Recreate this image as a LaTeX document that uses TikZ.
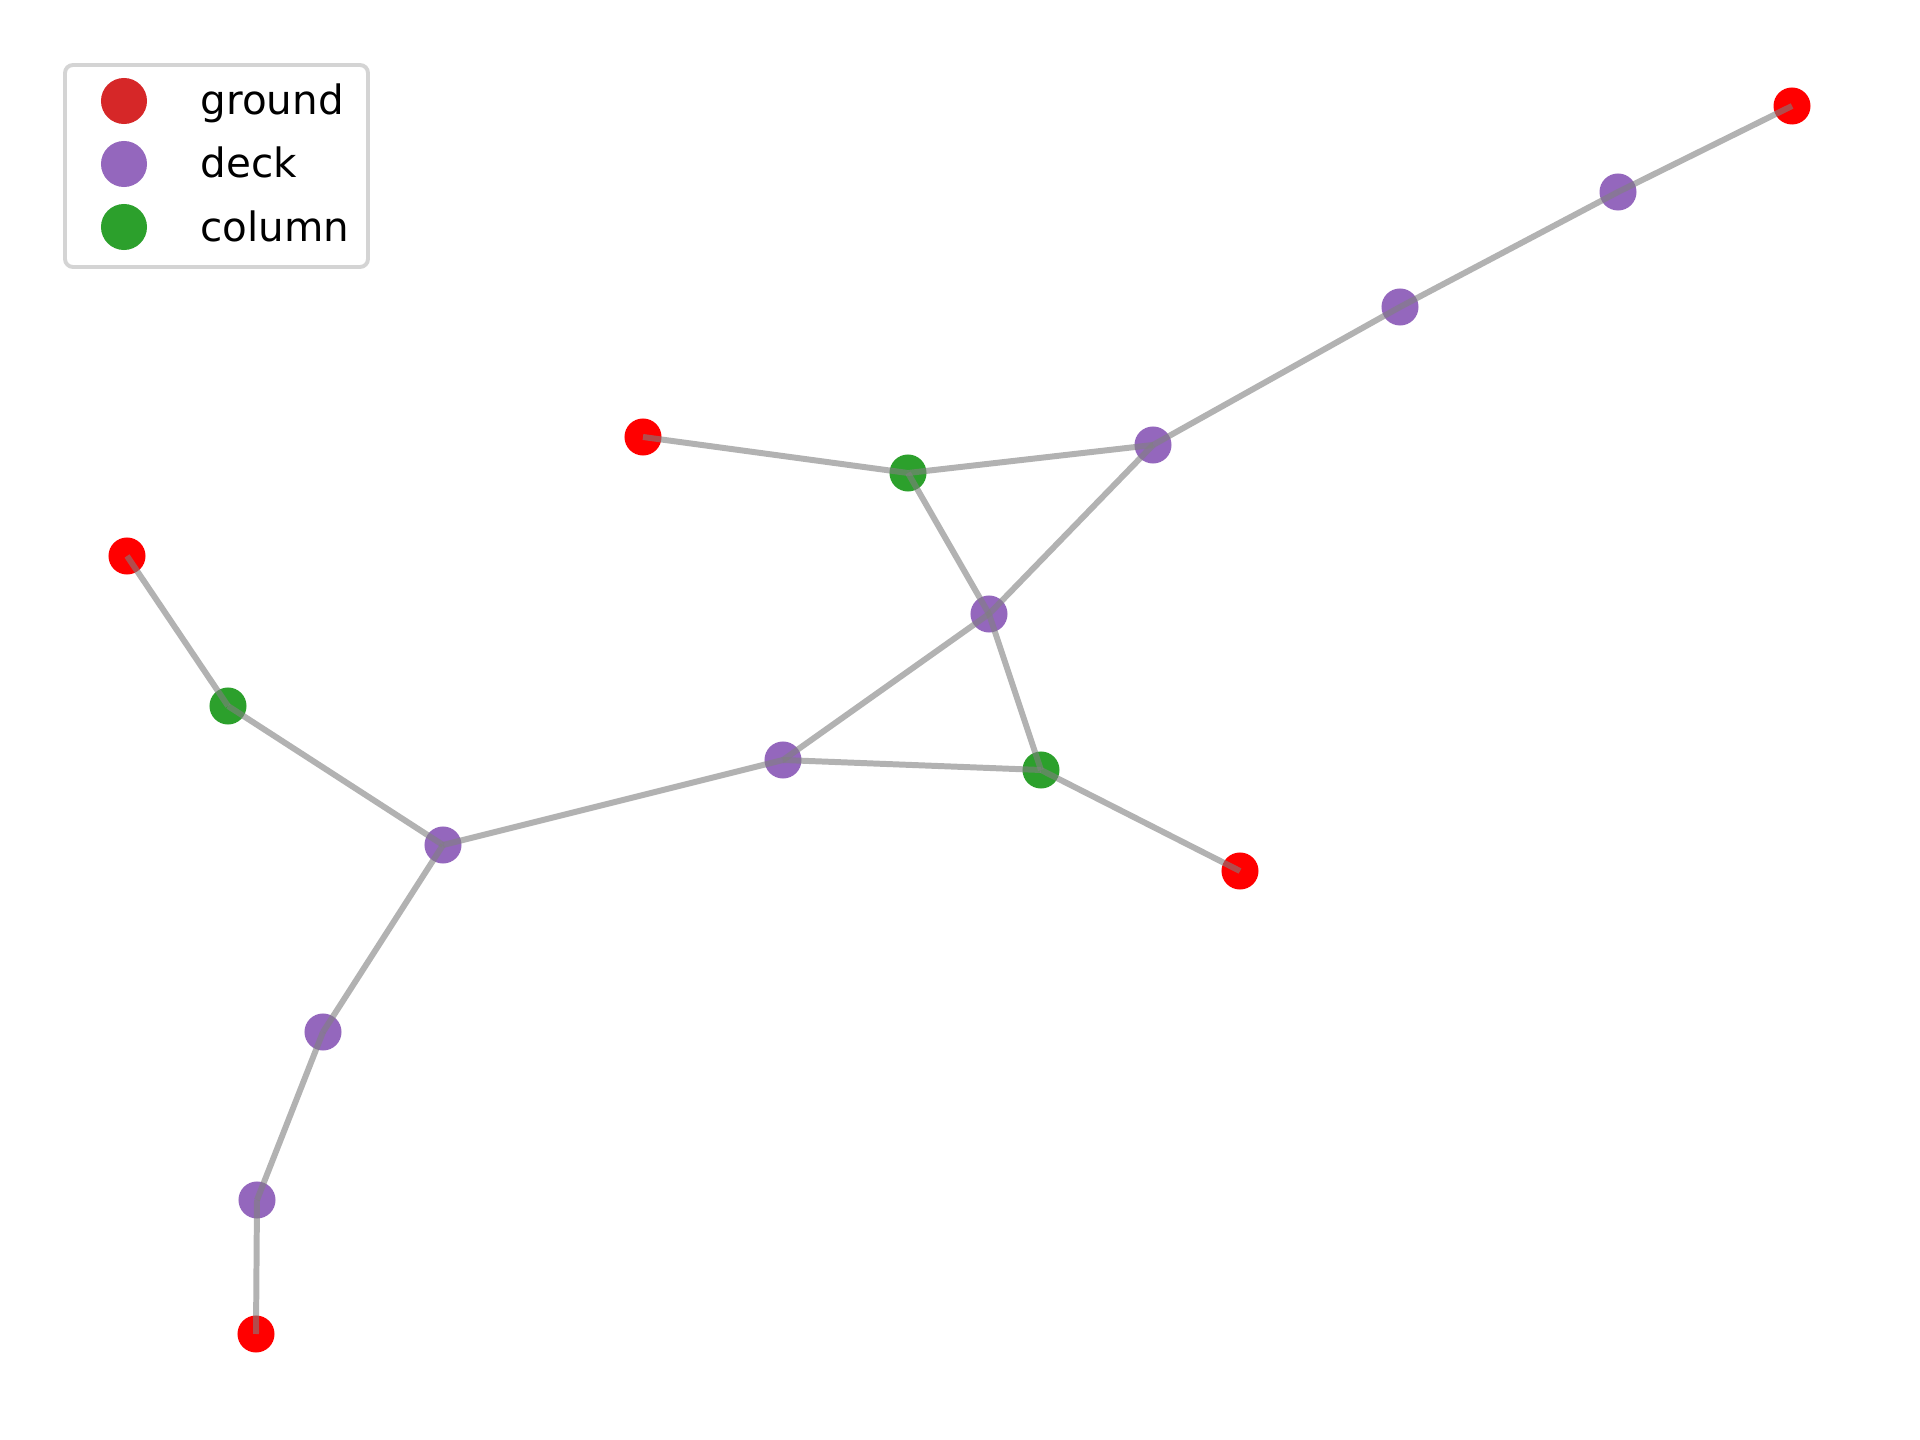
\documentclass[tikz,border=0pt]{standalone}
\usepackage{fontspec}
\setmainfont{DejaVu Sans}
\begin{document}
\begin{tikzpicture}[x=0.01cm,y=-0.01cm,
  vtx/.style={circle,inner sep=0pt,minimum size=0.37cm,draw=none},
  groundv/.style={vtx,fill=groundred},
  deckv/.style={vtx,fill=deckpurple},
  columnv/.style={vtx,fill=columngreen},
  edge/.style={draw=gray,opacity=0.6,line width=1.7pt,line cap=butt},
  legmark/.style={circle,inner sep=0pt,minimum size=0.46cm,draw=none},
  legtext/.style={anchor=base west,inner sep=0pt,font=\fontsize{11.5pt}{13pt}\selectfont}]
\definecolor{groundred}{HTML}{FF0000}
\definecolor{legred}{HTML}{D62728}
\definecolor{deckpurple}{HTML}{9467BD}
\definecolor{columngreen}{HTML}{2CA02C}
\definecolor{frame}{HTML}{D4D4D4}
\useasboundingbox[fill=white] (0,0) rectangle (1920,1440);

% ground supports
\node[groundv] (r1) at (1792,106) {};
\node[groundv] (r2) at (643,437) {};
\node[groundv] (r3) at (127,556) {};
\node[groundv] (r4) at (1240,871) {};
\node[groundv] (r5) at (256,1334) {};
% deck points
\node[deckv] (d1) at (1618,192) {};
\node[deckv] (d2) at (1400,307) {};
\node[deckv] (d3) at (1153,445) {};
\node[deckv] (d4) at (989,614) {};
\node[deckv] (d5) at (783,760) {};
\node[deckv] (d6) at (443,845) {};
\node[deckv] (d7) at (323,1032) {};
\node[deckv] (d8) at (257,1200) {};
% columns
\node[columnv] (c1) at (908,473) {};
\node[columnv] (c2) at (228,706) {};
\node[columnv] (c3) at (1041,770) {};

% members
\foreach \a/\b in {r1/d1,d1/d2,d2/d3,d3/c1,c1/r2,c1/d4,d3/d4,d4/c3,d4/d5,d5/c3,c3/r4,d5/d6,d6/c2,c2/r3,d6/d7,d7/d8,d8/r5}
  \draw[edge] (\a.center) -- (\b.center);

% legend
\draw[frame,line width=1.1pt,rounded corners=0.08cm,fill=white] (65,65) rectangle (368,267);
\node[legmark,fill=legred] (m1) at (124,101) {};
\node[legmark,fill=deckpurple] (m2) at (124,164) {};
\node[legmark,fill=columngreen] (m3) at (124,227) {};
\node[legtext] (t1) at (200,115) {ground};
\node[legtext] (t2) at (200,178) {deck};
\node[legtext] (t3) at (200,242) {column};
\end{tikzpicture}
\end{document}
